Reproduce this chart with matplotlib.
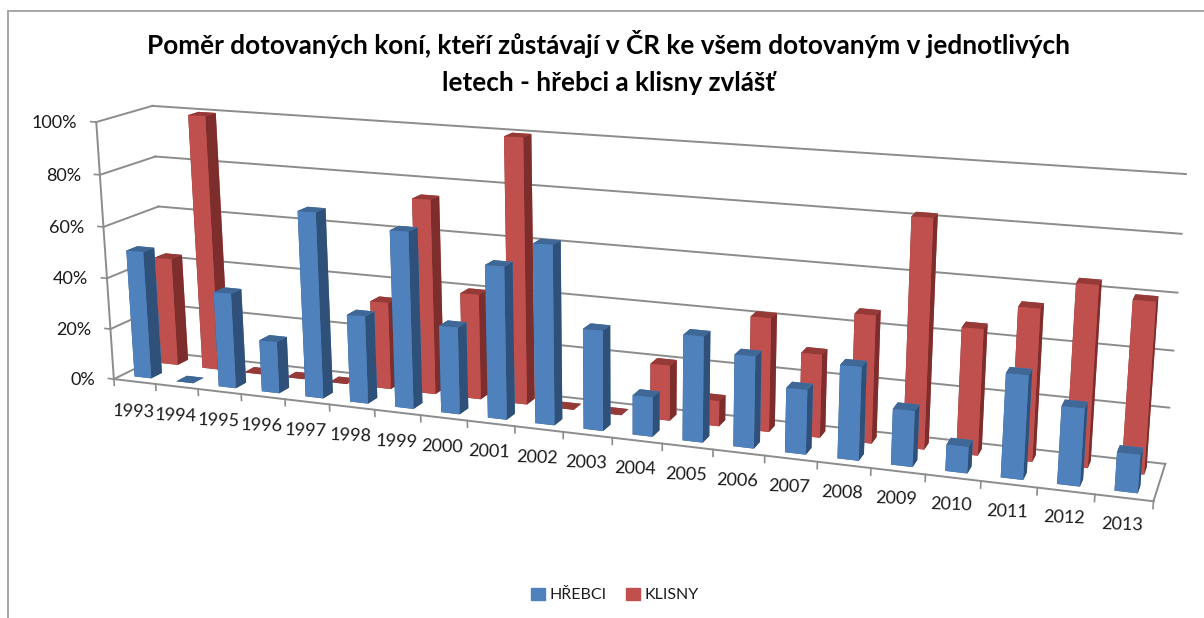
#!/usr/bin/env python3

import numpy as np
import matplotlib
matplotlib.use('Agg')
import matplotlib.pyplot as plt
from matplotlib.lines import Line2D
from matplotlib.patches import Patch
from mpl_toolkits.mplot3d import proj3d

W, H = 1204, 618

years = [1993, 1994, 1995, 1996, 1997, 1998, 1999, 2000, 2001, 2002, 2003,
         2004, 2005, 2006, 2007, 2008, 2009, 2010, 2011, 2012, 2013]
hrebci = [50, 0, 37, 20, 71, 33.4, 66.7, 32.8, 57, 66.4, 37,
          14.5, 38.5, 33.2, 23.2, 33.3, 19.8, 9.3, 36.2, 26.9, 13.2]
klisny = [42.8, 100, 0, 0, 0, 33.7, 74.5, 40.2, 100, 0, 0,
          20.7, 9.4, 41.8, 30.4, 46.3, 82, 45, 53.9, 63.7, 59.7]
y_ticks = [0, 20, 40, 60, 80, 100]

BLUE = ['#3a6290', '#3f6897', '#4f81bd', '#4f81bd', '#2f5179', '#2f5179']
RED = ['#8f3a38', '#963a38', '#c0504d', '#c0504d', '#7d2e2c', '#7d2e2c']
GRID = '#8c8c8c'
TXT = '#1a1a1a'

# where the plot box sits on the picture: (category, depth, percent) -> pixel
n = len(years)
anchors = [
    (0, 0, 0, 115, 378), (0, 0, 20, 110, 327), (0, 0, 40, 105, 277),
    (0, 0, 60, 103, 225), (0, 0, 80, 100, 173), (0, 0, 100, 97, 123),
    (0, 1, 0, 167, 351), (0, 1, 80, 155, 158), (0, 1, 60, 158, 207), (0, 1, 100, 153, 107),
    (n, 1, 0, 1166, 463), (n, 1, 20, 1169, 407), (n, 1, 40, 1173, 350),
    (n, 1, 60, 1178, 293), (n, 1, 80, 1182, 234), (n, 1, 100, 1186, 174),
    (n, 0, 0, 1153, 499), (1, 0, 0, 157, 385), (3, 0, 0, 242, 396),
    (6, 0, 0, 375, 412), (9, 0, 0, 514, 428), (12, 0, 0, 662, 445),
    (15, 0, 0, 817, 462), (18, 0, 0, 981, 482),
]


def fit_proj(pts):
    A = []
    b = []
    for x, y, z, u, v in pts:
        A.append([x, y, z, 1, 0, 0, 0, 0, -u * x, -u * y, -u * z])
        A.append([0, 0, 0, 0, x, y, z, 1, -v * x, -v * y, -v * z])
        b += [u, v]
    p = np.linalg.lstsq(np.array(A, float), np.array(b, float), rcond=None)[0]
    # third row only orders the faces: far, left and low ones get drawn first
    return np.array([p[:4], p[4:8], [-0.01, 1, -0.001, 0], [p[8], p[9], p[10], 1]])


M = fit_proj(anchors)

fig = plt.figure(figsize=(W / 100, H / 100), dpi=100)
ax = fig.add_axes([0, 0, 1, 1], projection='3d')
ax.apply_aspect = lambda position=None: None
ax.get_proj = lambda: M
ax.set_proj_type('ortho')
ax.set_autoscale_on(False)
ax.set_axis_off()
ax.computed_zorder = False
ax.viewLim.intervalx = (0, W)
ax.viewLim.intervaly = (H, 0)

# walls
for v in y_ticks:
    ax.plot([0, n], [1, 1], [v, v], color=GRID, lw=1.4, zorder=1)
    ax.plot([0, 0], [0, 1], [v, v], color=GRID, lw=1.4, zorder=1)
    ax.plot([0, -0.13], [0, 0], [v, v], color=GRID, lw=1.2, zorder=1)
    px, py = proj3d.proj_transform(0, 0, v, M)[:2]
    ax.text2D(px - 19, py + 1, '%d%%' % v, ha='right', va='center', fontsize=13, color=TXT,
              family='Lato', zorder=5)
ax.plot([0, 0], [0, 0], [0, 100], color=GRID, lw=1.4, zorder=1)
ax.plot([0, n], [0, 0], [0, 0], color=GRID, lw=1.4, zorder=1)
ax.plot([n, n], [0, 1], [0, 0], color=GRID, lw=1.4, zorder=1)
for i in range(n + 1):
    ax.plot([i, i], [0, 0], [0, -2.5], color=GRID, lw=1.2, zorder=1)
for i, yr in enumerate(years):
    px, py = proj3d.proj_transform(i + 0.47, 0, 0, M)[:2]
    ax.text2D(px, py + 30 - 3 * i / (n - 1), str(yr), ha='center', va='center', fontsize=13,
              color=TXT, family='Lato', rotation=-2, zorder=5)

# back row first, then front row, left to right
z = 2
for vals, y0, cols in [(klisny, 0.65, RED), (hrebci, 0.15, BLUE)]:
    for i, v in enumerate(vals):
        ax.bar3d(i + 0.3, y0, 0, 0.4, 0.2, v, color=cols, shade=False, zorder=z, lw=0)
        z += 1

fig.text(0.5055, 0.929, 'Poměr dotovaných koní, kteří zůstávají v ČR ke všem dotovaným v jednotlivých',
         ha='center', va='center', fontsize=18.8, fontweight='bold', family='Lato', color='black')
fig.text(0.5055, 0.866, 'letech - hřebci a klisny zvlášť',
         ha='center', va='center', fontsize=18.8, fontweight='bold', family='Lato', color='black')

handles = [Patch(color=BLUE[2], label='HŘEBCI'), Patch(color=RED[2], label='KLISNY')]
fig.legend(handles=handles, loc='center', bbox_to_anchor=(615 / W, 1 - 595 / H), ncol=2, frameon=False,
           prop={'family': 'Lato', 'size': 11.5}, handlelength=0.85, handleheight=0.85,
           handletextpad=0.3, columnspacing=1.2, labelcolor=TXT)

# frame of the chart, cut off at right and bottom
fig.add_artist(Line2D([8 / W, 8 / W], [0, 1 - 11 / H], color='#a6a6a6', lw=1.4))
fig.add_artist(Line2D([8 / W, 1], [1 - 11 / H, 1 - 11 / H], color='#a6a6a6', lw=1.4))

fig.savefig('out.png', dpi=100)
